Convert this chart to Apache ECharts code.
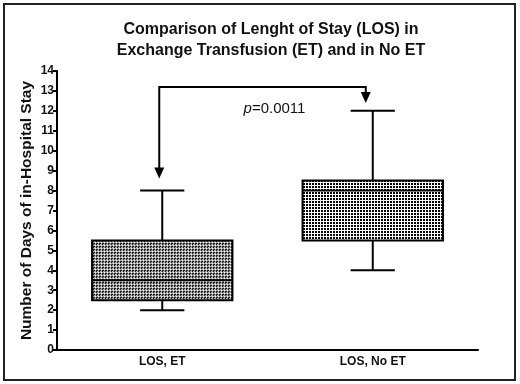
<!DOCTYPE html>
<html><head><meta charset="utf-8">
<script src="https://cdn.jsdelivr.net/npm/echarts@6/dist/echarts.min.js"></script>
<style>html,body{margin:0;padding:0;background:#fff}#c{width:520px;height:384px}</style>
</head><body><div id="c"></div>
<script>
const categories = ['LOS, ET', 'LOS, No ET'];
const mins = [2, 4];
const q1s = [2.5, 5.5];
const medians = [3.5, 8];
const q3s = [5.5, 8.5];
const maxs = [8, 12];
const yTicks = [0,1,2,3,4,5,6,7,8,9,10,11,12,13,14];
const bracketY = 13.2, leftTipY = 8.6, rightTipY = 12.4;
const pText = 'p=0.0011', pTextY = 12.1;

function makePattern(kind){
  const c = document.createElement('canvas');
  c.width = 3; c.height = 3;
  const g = c.getContext('2d');
  if (kind === 0) {
    g.fillStyle = '#a8a8a8'; g.fillRect(0,0,3,3);
    g.fillStyle = '#222'; g.fillRect(0,0,2,1); g.fillRect(0,1,1,1);
    g.fillStyle = '#fff'; g.fillRect(2,2,1,1);
  } else {
    g.fillStyle = '#fff'; g.fillRect(0,0,3,3);
    g.fillStyle = '#000'; g.fillRect(0,0,2,2);
  }
  return c;
}
const patterns = [makePattern(0), makePattern(1)];

const boxData = categories.map((c,i)=>[i, mins[i], q1s[i], medians[i], q3s[i], maxs[i]]);

const chart = echarts.init(document.getElementById('c'));
const font = 'Liberation Sans, Arial, sans-serif';
chart.setOption({
  animation: false,
  title: {
    text: 'Comparison of Lenght of Stay (LOS) in\nExchange Transfusion (ET) and in No ET',
    left: 266, top: 14, textAlign: 'center',
    textStyle: {fontFamily: font, fontSize: 16, fontWeight: 'bold', color: '#111', lineHeight: 21}
  },
  graphic: [{type:'rect', shape:{x:4, y:4, width:511, height:376}, style:{fill:'none', stroke:'#222', lineWidth:2}, silent:true}],
  grid: {left: 57, right: 42, top: 71, bottom: 34},
  xAxis: {
    type: 'category', data: categories, boundaryGap: true,
    axisLine: {lineStyle: {color: '#000', width: 2}},
    axisTick: {alignWithLabel: true, length: 4, lineStyle: {width: 2, color:'#000'}},
    axisLabel: {fontFamily: font, fontSize: 12, fontWeight: 'bold', color: '#111', margin: 6}
  },
  yAxis: {
    type: 'value', min: 0, max: 14, interval: 1,
    name: 'Number of Days of in-Hospital Stay', nameLocation: 'middle', nameGap: 22,
    nameMoveOverlap: false,
    nameTextStyle: {fontFamily: font, fontSize: 15.5, fontWeight: 'bold', color: '#111'},
    splitLine: {show: false},
    axisLine: {show: true, lineStyle: {color: '#000', width: 2}},
    axisTick: {show: true, length: 4, lineStyle: {width: 2, color:'#000'}},
    axisLabel: {fontFamily: font, fontSize: 12, fontWeight: 'bold', color: '#111', margin: 3,
      formatter: v => yTicks.includes(v) ? String(v) : ''}
  },
  series: [{
    type: 'custom',
    data: boxData,
    encode: {x: 0, y: [1,2,3,4,5]},
    renderItem: function(params, api){
      const i = api.value(0);
      const band = api.size([1, 0])[0];
      const bw = band * 0.667, cw = band * 0.21;
      const pMin = api.coord([i, api.value(1)]);
      const pQ1 = api.coord([i, api.value(2)]);
      const pMed = api.coord([i, api.value(3)]);
      const pQ3 = api.coord([i, api.value(4)]);
      const pMax = api.coord([i, api.value(5)]);
      const x = pQ1[0];
      const ls = {stroke: '#000', lineWidth: 2};
      return {type: 'group', children: [
        {type:'line', shape:{x1:x, y1:pQ3[1], x2:x, y2:pMax[1]}, style: ls},
        {type:'line', shape:{x1:x, y1:pQ1[1], x2:x, y2:pMin[1]}, style: ls},
        {type:'line', shape:{x1:x-cw/2, y1:pMax[1], x2:x+cw/2, y2:pMax[1]}, style: ls},
        {type:'line', shape:{x1:x-cw/2, y1:pMin[1], x2:x+cw/2, y2:pMin[1]}, style: ls},
        {type:'rect', shape:{x:x-bw/2, y:pQ3[1], width:bw, height:pQ1[1]-pQ3[1]},
          style:{fill:{image: patterns[i], repeat:'repeat'}, stroke:'#000', lineWidth:2}},
        {type:'line', shape:{x1:x-bw/2, y1:pMed[1], x2:x+bw/2, y2:pMed[1]}, style: ls}
      ]};
    },
    z: 2
  }, {
    type: 'custom',
    data: [[bracketY, leftTipY, rightTipY, pTextY]],
    encode: {y: [0,1,2,3]},
    renderItem: function(params, api){
      const top = api.coord([0, api.value(0)]);
      const lt = api.coord([0, api.value(1)]);
      const rTop = api.coord([1, api.value(0)]);
      const rt = api.coord([1, api.value(2)]);
      const py = api.coord([0, api.value(3)])[1];
      const px = (top[0] + rTop[0]) / 2;
      const lx = top[0] - 3, rx = rTop[0] - 7;
      const ls = {stroke:'#000', lineWidth:2, fill:'none'};
      const ah = 11, aw = 5;
      return {type:'group', children: [
        {type:'polyline', shape:{points:[[lx, lt[1]-ah+1],[lx, top[1]],[rx, top[1]],[rx, rt[1]-ah+1]]}, style: ls},
        {type:'polygon', shape:{points:[[lx-aw, lt[1]-ah],[lx+aw, lt[1]-ah],[lx, lt[1]]]}, style:{fill:'#000'}},
        {type:'polygon', shape:{points:[[rx-aw, rt[1]-ah],[rx+aw, rt[1]-ah],[rx, rt[1]]]}, style:{fill:'#000'}},
        {type:'text', x: px + 7, y: py, style:{text:'{i|p}=0.0011', align:'center', verticalAlign:'middle',
          fontFamily: font, fontSize: 15, fill:'#111',
          rich:{i:{fontStyle:'italic', fontFamily: font, fontSize: 15, fill:'#111'}}}}
      ]};
    },
    z: 3
  }]
});
</script></body></html>
